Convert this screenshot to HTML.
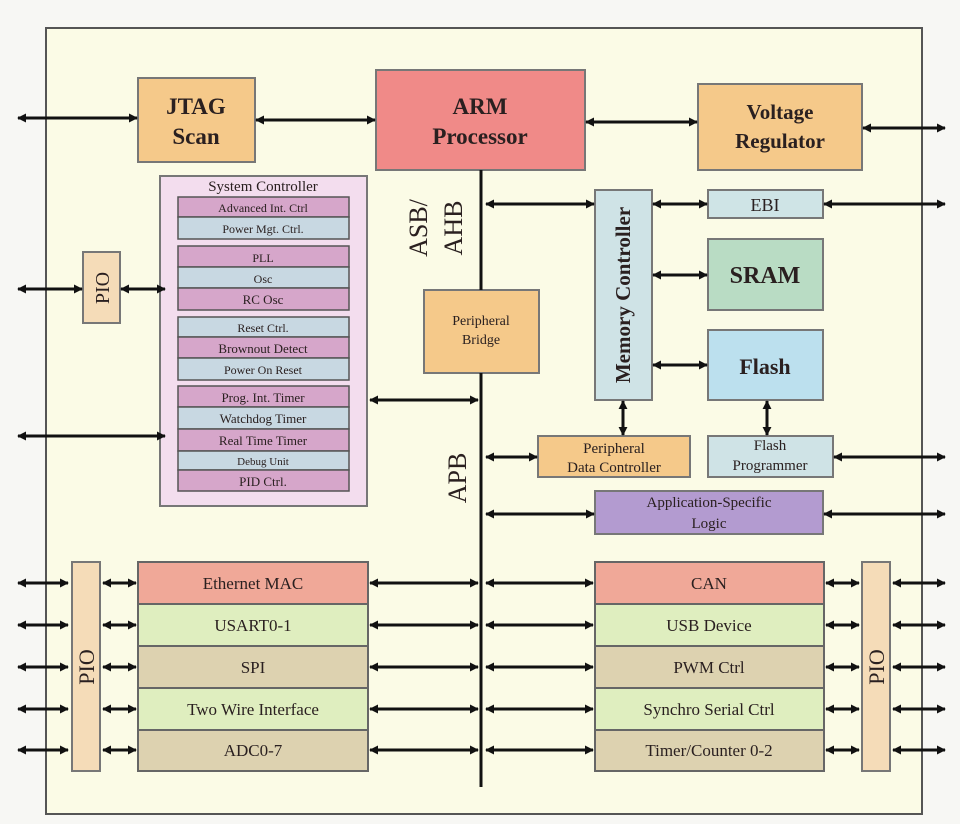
<!DOCTYPE html>
<html><head><meta charset="utf-8"><style>
html,body{margin:0;padding:0;background:#f7f7f4;}
svg{display:block}
text{font-family:"Liberation Serif",serif;fill:#2a2020}
</style></head><body>
<svg width="960" height="824" viewBox="0 0 960 824" xmlns="http://www.w3.org/2000/svg">
<defs>
<marker id="a" viewBox="0 0 10 10" refX="9" refY="5" markerWidth="9" markerHeight="9" markerUnits="userSpaceOnUse" orient="auto-start-reverse"><path d="M0,0 L10,5 L0,10 Z" fill="#111"/></marker>
</defs>
<rect x="0" y="0" width="960" height="824" fill="#f7f7f4"/>
<rect x="46" y="28" width="876" height="786" fill="#fbfbe6" stroke="#555" stroke-width="2"/>

<g stroke="#777" stroke-width="2">
<rect x="138" y="78" width="117" height="84" fill="#f5c98a"/>
<rect x="376" y="70" width="209" height="100" fill="#f08a88"/>
<rect x="698" y="84" width="164" height="86" fill="#f5c98a"/>
<rect x="424" y="290" width="115" height="83" fill="#f5c98a"/>
<rect x="160" y="176" width="207" height="330" fill="#f3ddee"/>
<rect x="83" y="252" width="37" height="71" fill="#f5dcb8"/>
<rect x="595" y="190" width="57" height="210" fill="#cfe3e6"/>
<rect x="708" y="190" width="115" height="28" fill="#cfe4e6"/>
<rect x="708" y="239" width="115" height="71" fill="#b9dcc4"/>
<rect x="708" y="330" width="115" height="70" fill="#bce0ee"/>
<rect x="538" y="436" width="152" height="41" fill="#f5c98a"/>
<rect x="708" y="436" width="125" height="41" fill="#cfe3e6"/>
<rect x="595" y="491" width="228" height="43" fill="#b39bd0"/>
<rect x="72" y="562" width="28" height="209" fill="#f5dcb8"/>
<rect x="862" y="562" width="28" height="209" fill="#f5dcb8"/>
</g>
<g stroke="#555" stroke-width="1.5">
<rect x="178" y="197" width="171" height="20" fill="#d6a6ca"/>
<rect x="178" y="217" width="171" height="22" fill="#c8d8e2"/>
<rect x="178" y="246" width="171" height="21" fill="#d6a6ca"/>
<rect x="178" y="267" width="171" height="21" fill="#c8d8e2"/>
<rect x="178" y="288" width="171" height="22" fill="#d6a6ca"/>
<rect x="178" y="317" width="171" height="20" fill="#c8d8e2"/>
<rect x="178" y="337" width="171" height="21" fill="#d6a6ca"/>
<rect x="178" y="358" width="171" height="22" fill="#c8d8e2"/>
<rect x="178" y="386" width="171" height="21" fill="#d6a6ca"/>
<rect x="178" y="407" width="171" height="22" fill="#c8d8e2"/>
<rect x="178" y="429" width="171" height="22" fill="#d6a6ca"/>
<rect x="178" y="451" width="171" height="19" fill="#c8d8e2"/>
<rect x="178" y="470" width="171" height="21" fill="#d6a6ca"/>
</g>
<g stroke="#666" stroke-width="2">
<rect x="138" y="562" width="230" height="42" fill="#f0a898"/>
<rect x="138" y="604" width="230" height="42" fill="#dfeebf"/>
<rect x="138" y="646" width="230" height="42" fill="#ddd2b0"/>
<rect x="138" y="688" width="230" height="42" fill="#dfeebf"/>
<rect x="138" y="730" width="230" height="41" fill="#ddd2b0"/>
<rect x="595" y="562" width="229" height="42" fill="#f0a898"/>
<rect x="595" y="604" width="229" height="42" fill="#dfeebf"/>
<rect x="595" y="646" width="229" height="42" fill="#ddd2b0"/>
<rect x="595" y="688" width="229" height="42" fill="#dfeebf"/>
<rect x="595" y="730" width="229" height="41" fill="#ddd2b0"/>
</g>

<line x1="481" y1="170" x2="481" y2="290" stroke="#111" stroke-width="3"/>
<line x1="481" y1="373" x2="481" y2="787" stroke="#111" stroke-width="3"/>

<g stroke="#111" stroke-width="3" marker-start="url(#a)" marker-end="url(#a)">
<line x1="18" y1="118" x2="137" y2="118"/>
<line x1="256" y1="120" x2="375" y2="120"/>
<line x1="586" y1="122" x2="697" y2="122"/>
<line x1="863" y1="128" x2="945" y2="128"/>
<line x1="18" y1="289" x2="82" y2="289"/>
<line x1="121" y1="289" x2="165" y2="289"/>
<line x1="18" y1="436" x2="165" y2="436"/>
<line x1="370" y1="400" x2="478" y2="400"/>
<line x1="486" y1="204" x2="594" y2="204"/>
<line x1="653" y1="204" x2="707" y2="204"/>
<line x1="824" y1="204" x2="945" y2="204"/>
<line x1="653" y1="275" x2="707" y2="275"/>
<line x1="653" y1="365" x2="707" y2="365"/>
<line x1="623" y1="401" x2="623" y2="435"/>
<line x1="767" y1="401" x2="767" y2="435"/>
<line x1="486" y1="457" x2="537" y2="457"/>
<line x1="834" y1="457" x2="945" y2="457"/>
<line x1="486" y1="514" x2="594" y2="514"/>
<line x1="824" y1="514" x2="945" y2="514"/>
</g>
<g stroke="#111" stroke-width="3" marker-start="url(#a)" marker-end="url(#a)">
<line x1="18" y1="583" x2="68" y2="583"/><line x1="103" y1="583" x2="136" y2="583"/><line x1="370" y1="583" x2="478" y2="583"/><line x1="486" y1="583" x2="593" y2="583"/><line x1="826" y1="583" x2="859" y2="583"/><line x1="893" y1="583" x2="945" y2="583"/>
<line x1="18" y1="625" x2="68" y2="625"/><line x1="103" y1="625" x2="136" y2="625"/><line x1="370" y1="625" x2="478" y2="625"/><line x1="486" y1="625" x2="593" y2="625"/><line x1="826" y1="625" x2="859" y2="625"/><line x1="893" y1="625" x2="945" y2="625"/>
<line x1="18" y1="667" x2="68" y2="667"/><line x1="103" y1="667" x2="136" y2="667"/><line x1="370" y1="667" x2="478" y2="667"/><line x1="486" y1="667" x2="593" y2="667"/><line x1="826" y1="667" x2="859" y2="667"/><line x1="893" y1="667" x2="945" y2="667"/>
<line x1="18" y1="709" x2="68" y2="709"/><line x1="103" y1="709" x2="136" y2="709"/><line x1="370" y1="709" x2="478" y2="709"/><line x1="486" y1="709" x2="593" y2="709"/><line x1="826" y1="709" x2="859" y2="709"/><line x1="893" y1="709" x2="945" y2="709"/>
<line x1="18" y1="750" x2="68" y2="750"/><line x1="103" y1="750" x2="136" y2="750"/><line x1="370" y1="750" x2="478" y2="750"/><line x1="486" y1="750" x2="593" y2="750"/><line x1="826" y1="750" x2="859" y2="750"/><line x1="893" y1="750" x2="945" y2="750"/>
</g>

<g font-weight="bold" font-size="23" text-anchor="middle">
<text x="196" y="114">JTAG</text><text x="196" y="144">Scan</text>
<text x="480" y="114">ARM</text><text x="480" y="144">Processor</text>
<text x="780" y="119" font-size="21">Voltage</text><text x="780" y="148" font-size="21">Regulator</text>
<text x="765" y="283" font-size="24" fill="#1a3a2a">SRAM</text>
<text x="765" y="374" font-size="22">Flash</text>
<text x="765" y="211" font-size="18" font-weight="normal">EBI</text>
</g>
<g text-anchor="middle" font-size="14">
<text x="263" y="191" font-size="15">System Controller</text>
<text x="263" y="212" font-size="12">Advanced Int. Ctrl</text>
<text x="263" y="233" font-size="12">Power Mgt. Ctrl.</text>
<text x="263" y="262" font-size="12">PLL</text>
<text x="263" y="283" font-size="12">Osc</text>
<text x="263" y="304" font-size="13">RC Osc</text>
<text x="263" y="332" font-size="12">Reset Ctrl.</text>
<text x="263" y="353" font-size="13">Brownout Detect</text>
<text x="263" y="374" font-size="12">Power On Reset</text>
<text x="263" y="402" font-size="13">Prog. Int. Timer</text>
<text x="263" y="423" font-size="13">Watchdog Timer</text>
<text x="263" y="445" font-size="13">Real Time Timer</text>
<text x="263" y="465" font-size="11">Debug Unit</text>
<text x="263" y="486" font-size="13">PID Ctrl.</text>
<text x="481" y="325" font-size="14">Peripheral</text><text x="481" y="344" font-size="14">Bridge</text>
<text x="614" y="453" font-size="15">Peripheral</text><text x="614" y="472" font-size="15">Data Controller</text>
<text x="770" y="450" font-size="15">Flash</text><text x="770" y="470" font-size="15">Programmer</text>
<text x="709" y="507" font-size="15">Application-Specific</text><text x="709" y="528" font-size="15">Logic</text>
<text x="253" y="589" font-size="17">Ethernet MAC</text>
<text x="253" y="631" font-size="17">USART0-1</text>
<text x="253" y="673" font-size="17">SPI</text>
<text x="253" y="715" font-size="17">Two Wire Interface</text>
<text x="253" y="756" font-size="17">ADC0-7</text>
<text x="709" y="589" font-size="17">CAN</text>
<text x="709" y="631" font-size="17">USB Device</text>
<text x="709" y="673" font-size="17">PWM Ctrl</text>
<text x="709" y="715" font-size="17">Synchro Serial Ctrl</text>
<text x="709" y="756" font-size="17">Timer/Counter 0-2</text>
</g>
<g text-anchor="middle">
<text transform="translate(630,295) rotate(-90)" font-size="21" font-weight="bold">Memory Controller</text>
<text transform="translate(109,288) rotate(-90)" font-size="20">PIO</text>
<text transform="translate(94,667) rotate(-90)" font-size="22">PIO</text>
<text transform="translate(884,667) rotate(-90)" font-size="22">PIO</text>
<text transform="translate(427,228) rotate(-90)" font-size="26">ASB/</text>
<text transform="translate(462,228) rotate(-90)" font-size="26">AHB</text>
<text transform="translate(466,478) rotate(-90)" font-size="26">APB</text>
</g>
</svg>
</body></html>
